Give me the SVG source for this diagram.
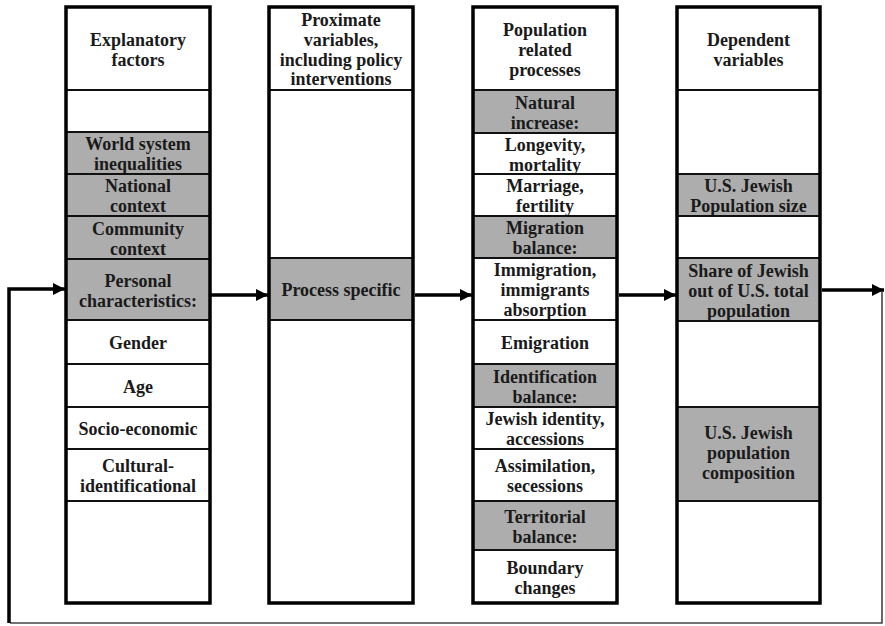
<svg xmlns="http://www.w3.org/2000/svg" width="885" height="626" viewBox="0 0 885 626">
<style>
.c{stroke:#111;stroke-width:2}
.w{fill:#fff}
.g{fill:#adadad}
.o{fill:none;stroke:#000;stroke-width:3.5}
text{font-family:"Liberation Serif","Times New Roman",serif;font-weight:bold;font-size:18px;fill:#1a1a1a;text-anchor:middle}
.a{stroke:#000;stroke-width:3.5;fill:none}
.t{stroke:#444;stroke-width:1.6;fill:none}
</style>
<defs>
<marker id="ah" markerUnits="userSpaceOnUse" markerWidth="12" markerHeight="12" refX="12" refY="6" orient="auto">
<path d="M0,0 L12,6 L0,12 z" fill="#000"/>
</marker>
</defs>
<rect width="885" height="626" fill="#fff"/>

<g id="col1">
<g id="c1-head"><rect class="c w" x="66" y="7" width="144" height="83"/><text x="138" y="45.5">Explanatory</text><text x="138" y="65.5">factors</text></g>
<g id="c1-blank1"><rect class="c w" x="66" y="90" width="144" height="42"/></g>
<g id="c1-world"><rect class="c g" x="66" y="132" width="144" height="42"/><text x="138" y="150">World system</text><text x="138" y="170">inequalities</text></g>
<g id="c1-national"><rect class="c g" x="66" y="174" width="144" height="42"/><text x="138" y="192">National</text><text x="138" y="212">context</text></g>
<g id="c1-community"><rect class="c g" x="66" y="216" width="144" height="43"/><text x="138" y="234.5">Community</text><text x="138" y="254.5">context</text></g>
<g id="c1-personal"><rect class="c g" x="66" y="259" width="144" height="61"/><text x="138" y="286.5">Personal</text><text x="138" y="306.5">characteristics:</text></g>
<g id="c1-gender"><rect class="c w" x="66" y="320" width="144" height="44"/><text x="138" y="349">Gender</text></g>
<g id="c1-age"><rect class="c w" x="66" y="364" width="144" height="43"/><text x="138" y="392.5">Age</text></g>
<g id="c1-socio"><rect class="c w" x="66" y="407" width="144" height="42"/><text x="138" y="435">Socio-economic</text></g>
<g id="c1-cultural"><rect class="c w" x="66" y="449" width="144" height="52"/><text x="138" y="472">Cultural-</text><text x="138" y="492">identificational</text></g>
<g id="c1-blank2"><rect class="c w" x="66" y="501" width="144" height="102"/></g>
<rect class="o" x="66" y="7" width="144" height="596"/>
</g>

<g id="col2">
<g id="c2-head"><rect class="c w" x="269" y="7" width="144" height="83"/><text x="341" y="25.5">Proximate</text><text x="341" y="45.5">variables,</text><text x="341" y="65.5">including policy</text><text x="341" y="85">interventions</text></g>
<g id="c2-blank1"><rect class="c w" x="269" y="90" width="144" height="168"/></g>
<g id="c2-process"><rect class="c g" x="269" y="258" width="144" height="62"/><text x="341" y="296">Process specific</text></g>
<g id="c2-blank2"><rect class="c w" x="269" y="320" width="144" height="283"/></g>
<rect class="o" x="269" y="7" width="144" height="596"/>
</g>

<g id="col3">
<g id="c3-head"><rect class="c w" x="473" y="7" width="144" height="83"/><text x="545" y="35.5">Population</text><text x="545" y="55.5">related</text><text x="545" y="75.5">processes</text></g>
<g id="c3-natural"><rect class="c g" x="473" y="90" width="144" height="43"/><text x="545" y="108.5">Natural</text><text x="545" y="128.5">increase:</text></g>
<g id="c3-longevity"><rect class="c w" x="473" y="133" width="144" height="41"/><text x="545" y="150.5">Longevity,</text><text x="545" y="170.5">mortality</text></g>
<g id="c3-marriage"><rect class="c w" x="473" y="174" width="144" height="42"/><text x="545" y="192">Marriage,</text><text x="545" y="212">fertility</text></g>
<g id="c3-migration"><rect class="c g" x="473" y="216" width="144" height="42"/><text x="545" y="234">Migration</text><text x="545" y="254">balance:</text></g>
<g id="c3-immigration"><rect class="c w" x="473" y="258" width="144" height="62"/><text x="545" y="276">Immigration,</text><text x="545" y="296">immigrants</text><text x="545" y="316">absorption</text></g>
<g id="c3-emigration"><rect class="c w" x="473" y="320" width="144" height="44"/><text x="545" y="349">Emigration</text></g>
<g id="c3-identification"><rect class="c g" x="473" y="364" width="144" height="43"/><text x="545" y="382.5">Identification</text><text x="545" y="402.5">balance:</text></g>
<g id="c3-jewish"><rect class="c w" x="473" y="407" width="144" height="42"/><text x="545" y="425">Jewish identity,</text><text x="545" y="445">accessions</text></g>
<g id="c3-assimilation"><rect class="c w" x="473" y="449" width="144" height="52"/><text x="545" y="472">Assimilation,</text><text x="545" y="492">secessions</text></g>
<g id="c3-territorial"><rect class="c g" x="473" y="501" width="144" height="49"/><text x="545" y="522.5">Territorial</text><text x="545" y="542.5">balance:</text></g>
<g id="c3-boundary"><rect class="c w" x="473" y="550" width="144" height="53"/><text x="545" y="573.5">Boundary</text><text x="545" y="593.5">changes</text></g>
<rect class="o" x="473" y="7" width="144" height="596"/>
</g>

<g id="col4">
<g id="c4-head"><rect class="c w" x="677" y="7" width="143" height="83"/><text x="748.5" y="45.5">Dependent</text><text x="748.5" y="65.5">variables</text></g>
<g id="c4-blank1"><rect class="c w" x="677" y="90" width="143" height="84"/></g>
<g id="c4-size"><rect class="c g" x="677" y="174" width="143" height="42"/><text x="748.5" y="192">U.S. Jewish</text><text x="748.5" y="212">Population size</text></g>
<g id="c4-blank2"><rect class="c w" x="677" y="216" width="143" height="42"/></g>
<g id="c4-share"><rect class="c g" x="677" y="258" width="143" height="63"/><text x="748.5" y="276.5">Share of Jewish</text><text x="748.5" y="296.5">out of U.S. total</text><text x="748.5" y="316.5">population</text></g>
<g id="c4-blank3"><rect class="c w" x="677" y="321" width="143" height="86"/></g>
<g id="c4-composition"><rect class="c g" x="677" y="407" width="143" height="94"/><text x="748.5" y="439">U.S. Jewish</text><text x="748.5" y="459">population</text><text x="748.5" y="479">composition</text></g>
<g id="c4-blank4"><rect class="c w" x="677" y="501" width="143" height="102"/></g>
<rect class="o" x="677" y="7" width="143" height="596"/>
</g>

<g id="connectors">
<line class="a" x1="211" y1="295" x2="268" y2="295" marker-end="url(#ah)"/>
<line class="a" x1="415" y1="295" x2="472" y2="295" marker-end="url(#ah)"/>
<line class="a" x1="619" y1="295" x2="676" y2="295" marker-end="url(#ah)"/>
<line class="a" x1="822" y1="290" x2="884" y2="290" marker-end="url(#ah)"/>
<polyline class="t" points="882,292 882,623 10,623"/>
<polyline class="a" points="9,623 9,289 65,289" marker-end="url(#ah)"/>
</g>
</svg>
